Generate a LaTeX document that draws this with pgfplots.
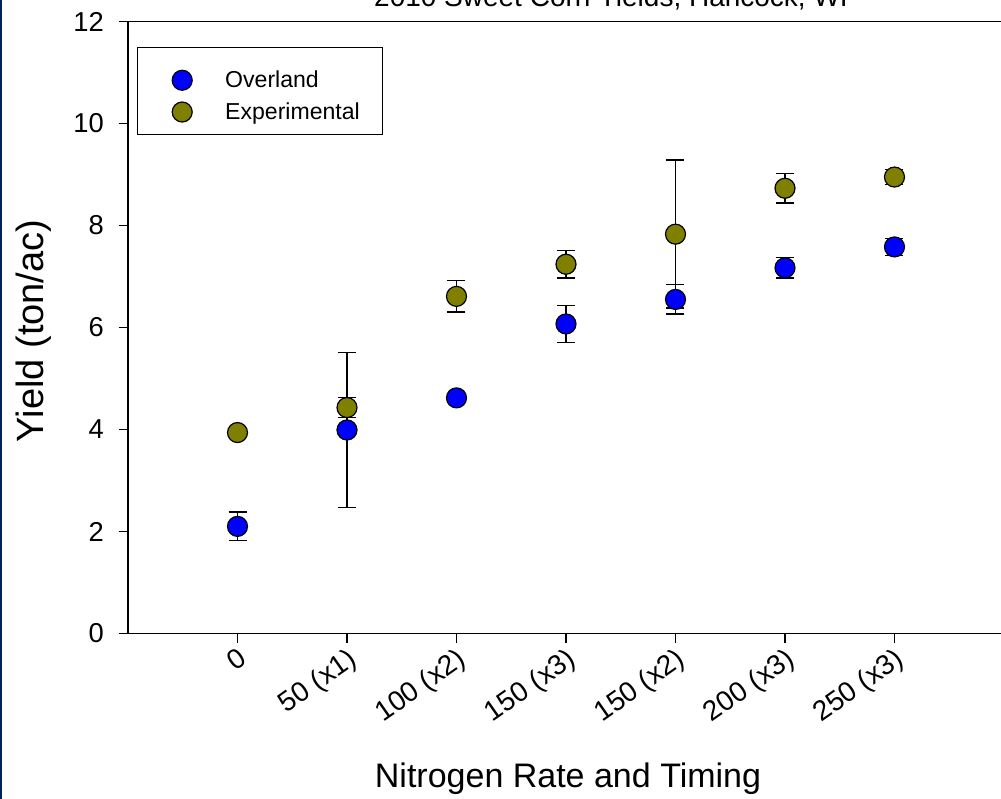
\documentclass[border=0pt]{standalone}
\usepackage{fontspec}
\setmainfont{Liberation Sans}
\usepackage{pgfplots}
\usepackage{pgfplotstable}
\pgfplotsset{compat=1.18}
\definecolor{ovl}{RGB}{0,0,255}
\definecolor{expc}{RGB}{128,128,0}
\definecolor{navyb}{RGB}{0,32,96}

\pgfplotstableread{
x y e
0 2.10 0.28
1 3.99 1.52
2 4.62 0.08
3 6.07 0.36
4 6.55 0.29
5 7.17 0.20
6 7.58 0.17
}\overland

\pgfplotstableread{
x y e
0 3.94 0.08
1 4.43 0.20
2 6.61 0.31
3 7.24 0.27
4 7.83 1.45
5 8.73 0.29
6 8.95 0.15
}\experimental

\begin{document}
\begin{tikzpicture}[x=0.75pt,y=0.75pt]
\useasboundingbox (0,0) rectangle (1001,799);
\fill[white] (0,0) rectangle (1001,799);
\begin{axis}[
  at={(96pt,124.125pt)}, anchor=south west,
  scale only axis, width=698.06pt, height=459pt,
  xmin=-1, xmax=7.5, ymin=0, ymax=12,
  xtick={0,...,6},
  xticklabels={0,50 (x1),100 (x2),150 (x3),150 (x2),200 (x3),250 (x3)},
  ytick={0,2,...,12},
  xtick pos=left, ytick pos=left,
  tick align=outside, major tick length=7pt,
  tick style={black, line width=0.8pt},
  axis line style={line width=1.2pt},
  ticklabel style={font=\fontsize{20.5}{23}\selectfont},
  /pgf/number format/assume math mode=true,
  xticklabel style={rotate=35, anchor=north east, inner sep=2pt, font=\fontsize{21}{24}\selectfont},
  yticklabel style={inner sep=2pt, xshift=-9pt},
  legend style={at={(0.00967,0.9588)}, anchor=north west, draw=black, line width=0.8pt,
    font=\fontsize{17.3}{20}\selectfont, inner xsep=15pt, inner ysep=8pt,
    row sep=5.8pt, column sep=22.75pt},
  legend cell align=left,
  legend image code/.code={\draw[#1, mark repeat=2, mark phase=2] plot coordinates {(0pt,0pt) (18.5pt,0pt) (37pt,0pt)};},
]
\addplot[only marks, mark=*, mark size=7.5pt, mark options={fill=ovl, draw=black, line width=0.9pt},
  legend image code/.code={\path[draw=none, fill=none] (0pt,0pt) -- (0pt,16.75pt);\draw[##1, mark repeat=2, mark phase=2] plot coordinates {(0pt,0pt) (18.5pt,0pt) (37pt,0pt)};},
  error bars/.cd, y dir=both, y explicit,
  error bar style={line width=1.1pt, black},
  error mark options={rotate=90, mark size=6.75pt, line width=1.1pt, black}]
  table[x=x, y=y, y error=e] {\overland};
\addlegendentry{Overland}
\addplot[only marks, mark=*, mark size=7.5pt, mark options={fill=expc, draw=black, line width=0.9pt},
  error bars/.cd, y dir=both, y explicit,
  error bar style={line width=1.1pt, black},
  error mark options={rotate=90, mark size=6.75pt, line width=1.1pt, black}]
  table[x=x, y=y, y error=e] {\experimental};
\addlegendentry{Experimental}
\end{axis}
\draw[navyb, line width=1.5pt] (1,0) -- (1,799);
\node[anchor=base, font=\fontsize{25.5}{30}\selectfont] at (568,11) {Nitrogen Rate and Timing};
\node[anchor=base, rotate=90, font=\fontsize{28.5}{32}\selectfont] at (43,468) {Yield (ton/ac)};
\node[anchor=base, font=\fontsize{21}{25}\selectfont] at (611,792) {2010 Sweet Corn Yields, Hancock, WI};
\end{tikzpicture}
\end{document}
